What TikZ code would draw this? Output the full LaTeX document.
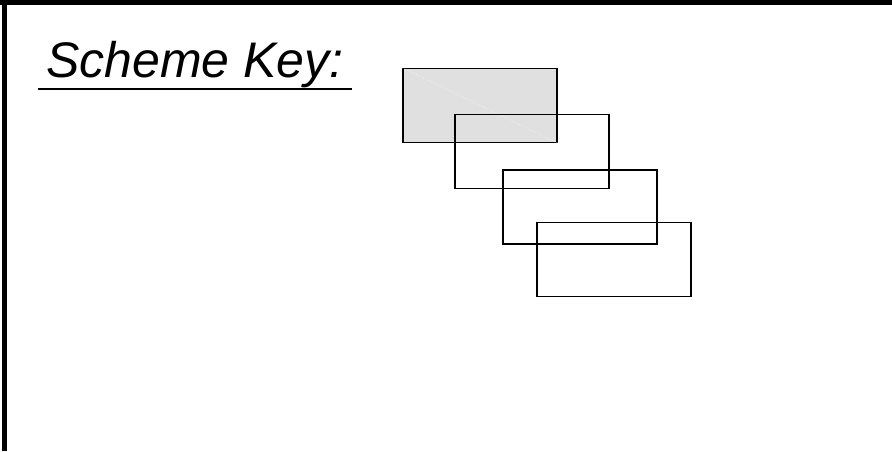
\documentclass[tikz,border=0pt]{standalone}
\usepackage{fontspec}
\setmainfont{Liberation Sans}
\begin{document}
\begin{tikzpicture}[x=1pt,y=-1pt,main/.style={draw,line width=1.5pt,minimum width=154pt,minimum height=74pt,inner sep=0pt}]
                \useasboundingbox (0,0) rectangle (892,451);
                \draw[line width=5pt] (0,2.5) -- (892,2.5);
                \draw[line width=4.5pt] (4.5,0) -- (4.5,451);
                \node[inner xsep=8pt,inner ysep=0pt,anchor=base west,font=\fontsize{50}{60}\selectfont\itshape](key) at (38,77){Scheme Key:};
                \draw[line width=2pt] ([yshift=-12pt]key.base west) -- ([yshift=-12pt]key.base east);
                \node[main,fill=black!12](0) at (480,105.5){};
                \draw[white,dotted,line width=0.6pt](0.north west) -- (0.south east);
                \node[main](1) at (532,151.5){};
                \node[main](2) at (580,207){};
                \node[main](3) at (614,259.5){};
            \end{tikzpicture}
\end{document}
